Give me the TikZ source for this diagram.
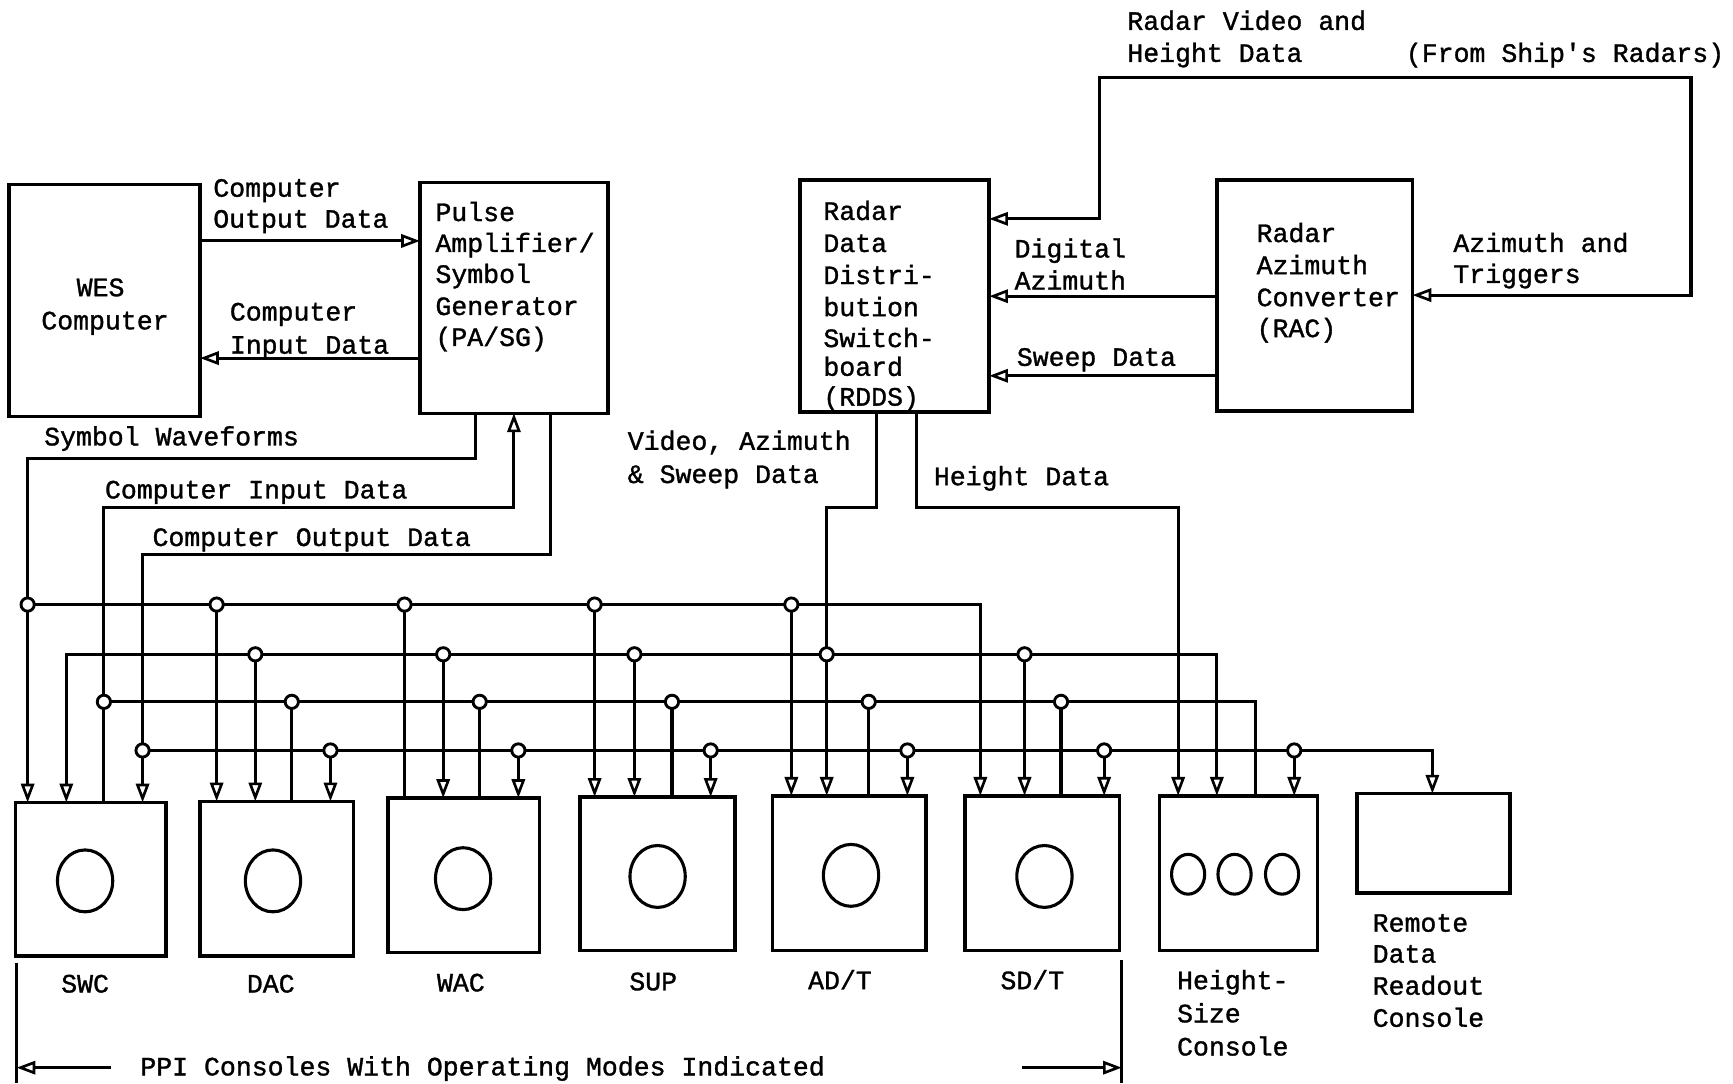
\documentclass[tikz,border=0pt]{standalone}
\usepackage{fontspec}
\newfontfamily\tw[FakeBold=1.2]{Liberation Mono}
\usetikzlibrary{arrows.meta}
\begin{document}
\begin{tikzpicture}[x=0.5pt,y=-0.5pt,
  every node/.style={inner sep=0pt, outer sep=0pt},
  lbl/.style={font=\tw\fontsize{12}{14}\selectfont, anchor=base west},
  clbl/.style={font=\tw\fontsize{12}{14}\selectfont, anchor=base},
  wire/.style={line width=1.4pt},
  unit/.style={draw, line width=1.6pt, anchor=north west},
  tip/.tip={Triangle[open,length=8.5pt,width=6pt,line width=1.2pt]},
  arr/.style={wire, -tip},
  arrb/.style={wire, tip-tip},
  jn/.style={circle, draw, fill=white, line width=1.3pt, minimum size=6pt},
  scope1/.style={line width=1.4pt}]
\useasboundingbox (0,0) rectangle (1568,980);
\fill[white] (0,0) rectangle (1568,980);

% ---------- upper units ----------
\node[unit, minimum width=86.5pt, minimum height=105pt]  (wes)  at (8,167) {};
\node[unit, minimum width=85pt,   minimum height=104.5pt](pasg) at (380,165) {};
\node[unit, minimum width=85.5pt, minimum height=105pt]  (rdds) at (724,163) {};
\node[unit, minimum width=88.5pt, minimum height=104.5pt](rac)  at (1101,163) {};

% ---------- consoles ----------
\node[unit, minimum width=68pt,   minimum height=69.5pt] (swc)  at (14,726) {};
\node[unit, minimum width=69.5pt, minimum height=70pt]   (dac)  at (181,725) {};
\node[unit, minimum width=68.5pt, minimum height=70pt]   (wac)  at (351,722) {};
\node[unit, minimum width=70pt,   minimum height=69.5pt] (sup)  at (525,721) {};
\node[unit, minimum width=69.5pt, minimum height=70pt]   (adt)  at (699,720) {};
\node[unit, minimum width=70pt,   minimum height=70pt]   (sdt)  at (873,720) {};
\node[unit, minimum width=71.5pt, minimum height=70pt]   (hs)   at (1049,720) {};
\node[unit, minimum width=69pt,   minimum height=45pt]   (rdrc) at (1228,718) {};

% scopes in consoles
\foreach \cx/\cy in {77/797, 247/797, 419/795, 595/793, 770/792, 945/793}
  \draw[scope1] (\cx,\cy) ellipse [x radius=12.5pt, y radius=14pt];
\foreach \cx in {1075,1117,1160}
  \draw[scope1] (\cx,791) ellipse [x radius=7.5pt, y radius=9pt];

% ---------- texts ----------
\node[lbl] (t1) at (1020,27) {Radar Video and};
\node[lbl] (t2) at (1020,56) {Height Data};
\node[lbl] (t3) at (1272,56) {(From Ship's Radars)};

\node[clbl] (w1) at (91,268) {WES};
\node[clbl] (w2) at (95,298) {Computer};

\node[lbl] (p1) at (394,200) {Pulse};
\node[lbl] (p2) at (394,228) {Amplifier/};
\node[lbl] (p3) at (394,256) {Symbol};
\node[lbl] (p4) at (394,285) {Generator};
\node[lbl] (p5) at (394,313) {(PA/SG)};

\node[lbl] (co1) at (193,178) {Computer};
\node[lbl] (co2) at (193,206) {Output Data};
\node[lbl] (ci1) at (208,290) {Computer};
\node[lbl] (ci2) at (208,320) {Input Data};

\node[lbl] (r1) at (745,199) {Radar};
\node[lbl] (r2) at (745,228) {Data};
\node[lbl] (r3) at (745,257) {Distri-};
\node[lbl] (r4) at (745,286) {bution};
\node[lbl] (r5) at (745,314) {Switch-};
\node[lbl] (r6) at (745,340) {board};
\node[lbl] (r7) at (745,367) {(RDDS)};

\node[lbl] (a1) at (1137,219) {Radar};
\node[lbl] (a2) at (1137,248) {Azimuth};
\node[lbl] (a3) at (1137,277) {Converter};
\node[lbl] (a4) at (1137,305) {(RAC)};

\node[lbl] (da1) at (918,233) {Digital};
\node[lbl] (da2) at (918,262) {Azimuth};
\node[lbl] (sw1) at (920,331) {Sweep Data};
\node[lbl] (at1) at (1315,228) {Azimuth and};
\node[lbl] (at2) at (1315,256) {Triggers};

\node[lbl] (sy1) at (40,403) {Symbol Waveforms};
\node[lbl] (cid) at (95,451) {Computer Input Data};
\node[lbl] (cod) at (138,494) {Computer Output Data};
\node[lbl] (v1) at (568,407) {Video, Azimuth};
\node[lbl] (v2) at (568,437) {\& Sweep Data};
\node[lbl] (hd) at (845,439) {Height Data};

\node[clbl] (n1) at (77,898) {SWC};
\node[clbl] (n2) at (245,898) {DAC};
\node[clbl] (n3) at (417,897) {WAC};
\node[clbl] (n4) at (591,896) {SUP};
\node[clbl] (n5) at (760,895) {AD/T};
\node[clbl] (n6) at (934,895) {SD/T};
\node[lbl] (h1) at (1065,895) {Height-};
\node[lbl] (h2) at (1065,925) {Size};
\node[lbl] (h3) at (1065,955) {Console};
\node[lbl] (m1) at (1242,843) {Remote};
\node[lbl] (m2) at (1242,871) {Data};
\node[lbl] (m3) at (1242,900) {Readout};
\node[lbl] (m4) at (1242,929) {Console};
\node[lbl] (ppi) at (127,973) {PPI Consoles With Operating Modes Indicated};

% ---------- upper connections ----------
\draw[arr] (wes.east |- 0,218) -- (pasg.west |- 0,218);
\draw[arr] (pasg.west |- 0,324) -- (wes.east |- 0,324);
\draw[arrb] (rdds.east |- 0,198) -- (995,198) -- (995,70) -- (1530,70) -- (1530,267) -- (rac.east |- 0,267);
\draw[arr] (rac.west |- 0,268) -- (rdds.east |- 0,268);
\draw[arr] (rac.west |- 0,340) -- (rdds.east |- 0,340);

% PA/SG lines
\draw[arr] (430,0 |- pasg.south) -- (430,415) -- (25,415) -- (25,0 |- swc.north);
\draw[arr] (94,0 |- swc.north) -- (94,459) -- (465,459) -- (465,0 |- pasg.south);
\draw[arr] (498,0 |- pasg.south) -- (498,502) -- (129,502) -- (129,0 |- swc.north);

% RDDS lines
\draw[arr] (793,0 |- rdds.south) -- (793,459) -- (748,459) -- (748,0 |- adt.north);
\draw[arr] (829,0 |- rdds.south) -- (829,459) -- (1066,459) -- (1066,0 |- hs.north);

% ---------- buses ----------
% bus A
\draw[arr] (25,547) -- (887,547) -- (887,0 |- sdt.north);
\foreach \x/\b in {196/dac, 538/sup, 716/adt}
  \draw[arr] (\x,547) -- (\x,0 |- \b.north);
\draw[wire] (366,547) -- (366,0 |- wac.north);
% bus B
\draw[arrb] (60,0 |- swc.north) -- (60,592) -- (1101,592) -- (1101,0 |- hs.north);
\foreach \x/\b in {231/dac, 401/wac, 574/sup, 927/sdt}
  \draw[arr] (\x,592) -- (\x,0 |- \b.north);
% bus C
\draw[wire] (94,635) -- (1136,635) -- (1136,0 |- hs.north);
\foreach \x/\b in {264/dac, 434/wac, 608/sup, 786/adt, 960/sdt}
  \draw[wire] (\x,635) -- (\x,0 |- \b.north);
% bus D
\draw[arr] (129,679) -- (1296,679) -- (1296,0 |- rdrc.north);
\foreach \x/\b in {299/dac, 469/wac, 643/sup, 821/adt, 999/sdt, 1171/hs}
  \draw[arr] (\x,679) -- (\x,0 |- \b.north);

% junctions
\foreach \x in {25,196,366,538,716} \node[jn] (jA\x) at (\x,547) {};
\foreach \x in {231,401,574,748,927} \node[jn] (jB\x) at (\x,592) {};
\foreach \x in {94,264,434,608,786,960} \node[jn] (jC\x) at (\x,635) {};
\foreach \x in {129,299,469,643,821,999,1171} \node[jn] (jD\x) at (\x,679) {};

% ---------- bottom bracket ----------
\coordinate (bl1) at (15,871);
\coordinate (bl2) at (15,980);
\coordinate (bl3) at (100,966);
\coordinate (br1) at (1015,869);
\coordinate (br2) at (1015,980);
\coordinate (br3) at (925,966);
\draw[wire] (bl1) -- (bl2);
\draw[wire] (br1) -- (br2);
\draw[arr] (bl3) -- (bl1 |- bl3);
\draw[arr] (br3) -- (br1 |- br3);
\end{tikzpicture}
\end{document}
